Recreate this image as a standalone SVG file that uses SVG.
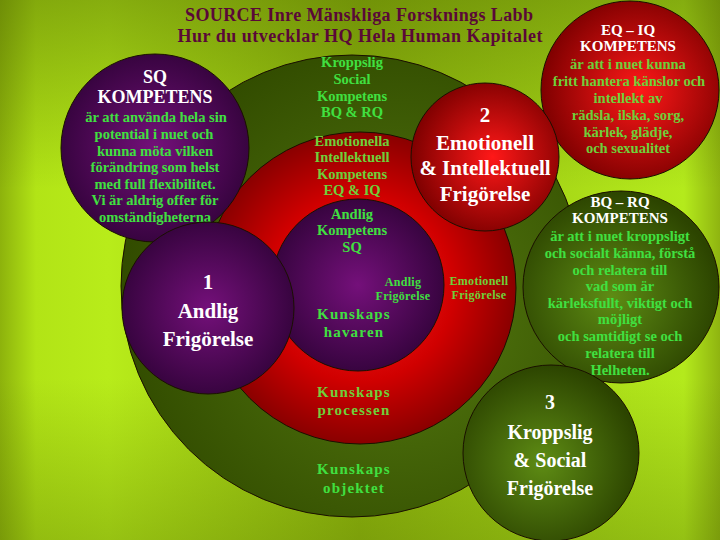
<svg xmlns="http://www.w3.org/2000/svg" width="720" height="540" viewBox="0 0 720 540">
<defs>
<linearGradient id="bgH" x1="0" y1="0" x2="1" y2="0">
<stop offset="0" stop-color="#8db20c"/>
<stop offset="0.05" stop-color="#b2e416"/>
<stop offset="0.15" stop-color="#b8ec1a"/>
<stop offset="0.5" stop-color="#92ba0e"/>
<stop offset="0.88" stop-color="#b0e41a"/>
<stop offset="0.95" stop-color="#b4ea1c"/>
<stop offset="1" stop-color="#8fb410"/>
</linearGradient>
<linearGradient id="bgV" x1="0" y1="0" x2="0" y2="1">
<stop offset="0" stop-color="#4a6200" stop-opacity="0.45"/>
<stop offset="0.35" stop-color="#4a6200" stop-opacity="0"/>
<stop offset="0.7" stop-color="#4a6200" stop-opacity="0"/>
<stop offset="1" stop-color="#4a6200" stop-opacity="0.3"/>
</linearGradient>
<radialGradient id="gOuter" cx="0.6" cy="0.55" r="0.6">
<stop offset="0" stop-color="#567c10"/>
<stop offset="1" stop-color="#324c00"/>
</radialGradient>
<radialGradient id="gRed" cx="0.5" cy="0.5" r="0.5">
<stop offset="0" stop-color="#ff2020"/>
<stop offset="0.6" stop-color="#d00000"/>
<stop offset="1" stop-color="#8a0000"/>
</radialGradient>
<radialGradient id="gRed2" cx="0.55" cy="0.5" r="0.55">
<stop offset="0" stop-color="#ff1818"/>
<stop offset="1" stop-color="#7e0000"/>
</radialGradient>
<radialGradient id="gPurple" cx="0.5" cy="0.5" r="0.5">
<stop offset="0" stop-color="#74107a"/>
<stop offset="1" stop-color="#380440"/>
</radialGradient>
<radialGradient id="gGreen" cx="0.45" cy="0.55" r="0.55">
<stop offset="0" stop-color="#5e8c14"/>
<stop offset="1" stop-color="#2c4400"/>
</radialGradient>
<style>
.c{stroke:#1a1000;stroke-width:1}
text{font-family:"Liberation Serif","DejaVu Serif",serif;font-weight:bold;text-anchor:middle}
.t{fill:#5a0838;font-size:18px}
.w{fill:#ffffff}
.g{fill:#40e040;font-size:14.5px}
.gr{fill:#6ed03a;font-size:14.5px}
.k{fill:#40e040;font-size:15px;letter-spacing:1.2px}
.kr{fill:#6ed03a;font-size:15px;letter-spacing:1.2px}
.s{font-size:12px;letter-spacing:0.3px}
</style>
</defs>
<rect width="720" height="540" fill="url(#bgH)"/>
<rect width="720" height="540" fill="url(#bgV)"/>
<g id="title">
<text class="t" x="359" y="21" textLength="348">SOURCE Inre Mänskliga Forsknings Labb</text>
<text class="t" x="360" y="42" textLength="365">Hur du utvecklar HQ Hela Human Kapitalet</text>
</g>
<g id="connectors"></g>
<g id="outer-bq-rq">
<circle class="c" cx="352" cy="286" r="231" fill="url(#gOuter)"/>
<text class="g" x="352" y="67">Kroppslig</text>
<text class="g" x="352" y="84">Social</text>
<text class="g" x="352" y="101">Kompetens</text>
<text class="g" x="352" y="117">BQ &amp; RQ</text>
<text class="k" x="354" y="474">Kunskaps</text>
<text class="k" x="354" y="493">objektet</text>
</g>
<g id="middle-eq-iq">
<circle class="c" cx="360" cy="288" r="156" fill="url(#gRed)"/>
<text class="gr" x="352" y="146">Emotionella</text>
<text class="gr" x="352" y="162">Intellektuell</text>
<text class="gr" x="352" y="179">Kompetens</text>
<text class="gr" x="352" y="195">EQ &amp; IQ</text>
<text class="gr s" x="479" y="285">Emotionell</text>
<text class="gr s" x="479" y="299">Frigörelse</text>
<text class="kr" x="354" y="397">Kunskaps</text>
<text class="kr" x="354" y="415">processen</text>
</g>
<g id="inner-sq">
<circle class="c" cx="358" cy="285" r="86" fill="url(#gPurple)"/>
<text class="g" x="352" y="219">Andlig</text>
<text class="g" x="352" y="235">Kompetens</text>
<text class="g" x="352" y="252">SQ</text>
<text class="g s" x="403" y="286">Andlig</text>
<text class="g s" x="403" y="300">Frigörelse</text>
<text class="k" x="354" y="319">Kunskaps</text>
<text class="k" x="354" y="337">havaren</text>
</g>
<g id="sq-kompetens">
<circle class="c" cx="155" cy="148" r="94" fill="url(#gPurple)"/>
<text class="w" x="155" y="83" font-size="18">SQ</text>
<text class="w" x="155" y="103" font-size="18">KOMPETENS</text>
<text class="g" x="156" y="122">är att använda hela sin</text>
<text class="g" x="154" y="139">potential i nuet och</text>
<text class="g" x="155" y="156">kunna möta vilken</text>
<text class="g" x="155" y="172">förändring som helst</text>
<text class="g" x="155" y="189">med full flexibilitet.</text>
<text class="g" x="155" y="205">Vi är aldrig offer för</text>
<text class="g" x="155" y="222">omständigheterna</text>
</g>
<g id="andlig-frigorelse">
<circle class="c" cx="208" cy="308" r="86" fill="url(#gPurple)"/>
<text class="w" x="208" y="289" font-size="21">1</text>
<text class="w" x="208" y="318" font-size="21">Andlig</text>
<text class="w" x="208" y="346" font-size="21">Frigörelse</text>
</g>
<g id="eq-iq-kompetens">
<circle class="c" cx="630" cy="90" r="89" fill="url(#gRed2)"/>
<text class="w" x="628" y="35" font-size="15">EQ – IQ</text>
<text class="w" x="628" y="51" font-size="15">KOMPETENS</text>
<text class="gr" x="628" y="69">är att i nuet kunna</text>
<text class="gr" x="629" y="86">fritt hantera känslor och</text>
<text class="gr" x="628" y="103">intellekt av</text>
<text class="gr" x="628" y="120">rädsla, ilska, sorg,</text>
<text class="gr" x="628" y="137">kärlek, glädje,</text>
<text class="gr" x="628" y="153">och sexualitet</text>
</g>
<g id="emotionell-frigorelse">
<circle class="c" cx="485" cy="157" r="74" fill="url(#gRed2)"/>
<text class="w" x="485" y="122" font-size="21">2</text>
<text class="w" x="485" y="150" font-size="21">Emotionell</text>
<text class="w" x="485" y="175" font-size="21">&amp; Intellektuell</text>
<text class="w" x="485" y="201" font-size="21">Frigörelse</text>
</g>
<g id="bq-rq-kompetens">
<ellipse class="c" cx="621" cy="287" rx="98" ry="96" fill="url(#gGreen)"/>
<text class="w" x="620" y="207" font-size="15">BQ – RQ</text>
<text class="w" x="620" y="223" font-size="15">KOMPETENS</text>
<text class="g" x="620" y="241">är att i nuet kroppsligt</text>
<text class="g" x="620" y="258">och socialt känna, förstå</text>
<text class="g" x="620" y="275">och relatera till</text>
<text class="g" x="620" y="291">vad som är</text>
<text class="g" x="620" y="308">kärleksfullt, viktigt och</text>
<text class="g" x="620" y="324">möjligt</text>
<text class="g" x="620" y="341">och samtidigt se och</text>
<text class="g" x="620" y="358">relatera till</text>
<text class="g" x="620" y="375">Helheten.</text>
</g>
<g id="kroppslig-frigorelse">
<circle class="c" cx="551" cy="453" r="88" fill="url(#gGreen)"/>
<text class="w" x="550" y="409" font-size="20">3</text>
<text class="w" x="550" y="439" font-size="20">Kroppslig</text>
<text class="w" x="550" y="467" font-size="20">&amp; Social</text>
<text class="w" x="550" y="495" font-size="20">Frigörelse</text>
</g>
</svg>
